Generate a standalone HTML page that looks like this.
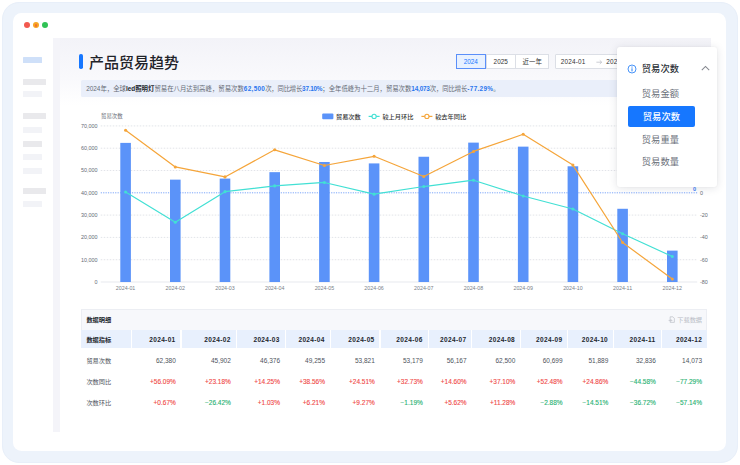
<!DOCTYPE html>
<html lang="zh-CN"><head><meta charset="utf-8"><title>产品贸易趋势</title>
<style>
*{margin:0;padding:0;box-sizing:border-box}
html,body{width:740px;height:465px;overflow:hidden;background:#fff}
body{position:relative;font-family:"Liberation Sans","Noto Sans CJK SC",sans-serif;color:#333;-webkit-font-smoothing:antialiased}
.abs,.frame,.inner,.dot,.content,.card,.sb,.hc,.rc{position:absolute}
.frame{left:1.8px;top:1.7px;width:736.7px;height:461.4px;border-radius:17px;background:#edf3fb;border:1px solid #e8eff9}
.inner{left:13.2px;top:13.2px;width:713.1px;height:437.8px;border-radius:8.5px;background:#fff}
.dot{width:6px;height:6px;border-radius:50%;top:22.3px}
.content{left:53.2px;top:37.8px;width:657.8px;height:393.8px;background:#f4f4f9}
.card{left:60px;top:38px;width:651px;height:393.5px;background:linear-gradient(180deg,#f3f3f8 0px,#f6f6fa 20px,#f9f9fc 40px,#fdfdfe 58px,#fff 68px)}
.sb{height:6px;border-radius:0.5px}
.sb.g{background:#e9e9ec}.sb.l{background:#f2f3f7}.sb.b{background:#cfe0f9}
.tbar{left:79px;top:54px;width:3.6px;height:15px;border-radius:1.8px;background:#1677ff}
.title{left:89px;top:52.6px;font-size:15px;line-height:19px;font-weight:500;color:#1f2329;letter-spacing:0;white-space:nowrap}
.btn{top:54px;height:15.2px;border:0.8px solid #dcdfe6;background:#fff;font-size:6.4px;line-height:13.6px;text-align:center;color:#333;white-space:nowrap}
.btn.sel{background:#e8f1ff;border-color:#5b8ff9;color:#1677ff}
.summary{left:81px;top:80px;width:626.2px;height:17px;background:#eaeffa;border-radius:1.5px;font-size:6.4px;line-height:17px;padding-left:5.2px;color:#666b75;white-space:nowrap}
.summary b{color:#23272e;font-weight:700}
.summary i{font-style:normal;color:#2a76ee;font-weight:700}
.tbox{left:81px;top:309px;width:626.2px;height:21.2px;background:#f7f8fb;border:0.6px solid #eceef3;border-bottom:none}
.ttitle{left:86.4px;top:315.3px;font-size:6.2px;line-height:10px;font-weight:700;color:#23272e;white-space:nowrap}
.dl{left:677.3px;top:315.3px;font-size:6.2px;line-height:10px;color:#b9bdc6;white-space:nowrap}
.hc{top:330.2px;height:18px;background:#e8f0fd;font-size:6.5px;line-height:19.6px;font-weight:700;color:#23272e;text-align:right;padding-right:4.9px;white-space:nowrap;letter-spacing:0.36px;overflow:hidden}
.hc.first{text-align:left;padding-left:5.4px;font-size:6.2px;letter-spacing:0}
.rc{font-size:6.5px;line-height:10px;white-space:nowrap;color:#4e535c}
.rc.name{font-size:6.2px}
.rc.up{color:#f04a48;-webkit-text-stroke:0.12px #f04a48}.rc.down{color:#29b273;-webkit-text-stroke:0.12px #29b273}
.dd{left:617px;top:47px;width:100px;height:139.5px;background:#fff;border-radius:3px;box-shadow:0 1px 9px rgba(30,35,60,0.13),0 0 2px rgba(30,35,60,0.05)}
.dd .h{position:absolute;left:24.8px;top:15.5px;font-size:9.3px;line-height:13px;font-weight:500;color:#2b2f36;white-space:nowrap}
.dd .it{position:absolute;left:24.8px;font-size:9.3px;line-height:13px;color:#6b707a;white-space:nowrap}
.dd .selit{position:absolute;left:11px;top:58.5px;width:66.8px;height:21.2px;border-radius:2px;background:#1677ff;color:#fff;font-weight:500;font-size:9.3px;line-height:22.8px;text-align:center;white-space:nowrap}
</style></head><body>
<div class="frame"></div><div class="inner"></div>
<div class="dot" style="left:23.5px;background:#f2594f"></div>
<div class="dot" style="left:33px;background:#f6a524"></div><div class="dot" style="left:34.8px;top:24.3px;width:2.4px;height:2.4px;background:#f2702f"></div>
<div class="dot" style="left:42px;background:#30c255"></div>
<div class="content"></div><div class="card"></div>
<div class="sb b" style="left:23.2px;top:57px;width:18.5px;height:5.5px"></div>
<div class="sb g" style="left:23.2px;top:78.7px;width:22.4px"></div>
<div class="sb l" style="left:23.2px;top:91px;width:18.5px"></div>
<div class="sb g" style="left:23.2px;top:113.2px;width:22.4px"></div>
<div class="sb l" style="left:23.2px;top:127px;width:18.5px"></div>
<div class="sb g" style="left:23.2px;top:140.6px;width:18.5px"></div>
<div class="sb l" style="left:23.2px;top:154.2px;width:18.5px"></div>
<div class="sb l" style="left:23.2px;top:167.8px;width:18.5px"></div>
<div class="sb g" style="left:23.2px;top:187.5px;width:22.4px"></div>
<div class="sb l" style="left:23.2px;top:201px;width:18.5px"></div>
<div class="abs tbar"></div>
<div class="abs title">产品贸易趋势</div>
<div class="abs btn sel" style="left:455.5px;width:30.6px;z-index:2">2024</div>
<div class="abs btn" style="left:485.5px;width:30.4px">2025</div>
<div class="abs btn" style="left:515.3px;width:33.8px">近一年</div>
<div class="abs btn" style="left:554.5px;width:110px;text-align:left;padding-left:5.2px;border-radius:1px;letter-spacing:0.2px">2024-01<svg width="20.7" height="6" viewBox="0 0 20.7 6" style="vertical-align:-0.6px"><path d="M10.4 3.2h5.2M13.8 1.4l1.9 1.8-1.9 1.8" fill="none" stroke="#b4b8c1" stroke-width="0.7"/></svg>2024-12</div>
<div class="abs summary">2024年，全球<b>led照明灯</b>贸易在八月达到高峰，贸易次数<i style="letter-spacing:0.3px">62,500</i><span style="letter-spacing:-0.24px">次，同比增长</span><i style="letter-spacing:-0.25px">37.10%</i><span style="letter-spacing:-0.03px">；全年低峰为十二月，贸易次数</span><i style="letter-spacing:-0.2px">14,073</i><span style="letter-spacing:-0.12px">次，同比增长</span><i style="letter-spacing:0.3px">-77.29%</i>。</div>
<svg class="chart" width="740" height="465" viewBox="0 0 740 465" style="position:absolute;left:0;top:0">
<line x1="100.75" y1="282.00" x2="697.15" y2="282.00" stroke="#dcdfe6" stroke-width="0.7"/>
<text x="97.5" y="283.90" text-anchor="end" font-size="5.4" fill="#666b75">0</text>
<line x1="100.75" y1="259.70" x2="697.15" y2="259.70" stroke="#d6d9e0" stroke-width="0.7" stroke-dasharray="1.5 1.5"/>
<text x="97.5" y="261.60" text-anchor="end" font-size="5.4" fill="#666b75">10,000</text>
<line x1="100.75" y1="237.40" x2="697.15" y2="237.40" stroke="#d6d9e0" stroke-width="0.7" stroke-dasharray="1.5 1.5"/>
<text x="97.5" y="239.30" text-anchor="end" font-size="5.4" fill="#666b75">20,000</text>
<line x1="100.75" y1="215.10" x2="697.15" y2="215.10" stroke="#d6d9e0" stroke-width="0.7" stroke-dasharray="1.5 1.5"/>
<text x="97.5" y="217.00" text-anchor="end" font-size="5.4" fill="#666b75">30,000</text>
<line x1="100.75" y1="192.80" x2="697.15" y2="192.80" stroke="#5b8ff9" stroke-width="0.8" stroke-dasharray="1.2 1.2"/>
<text x="97.5" y="194.70" text-anchor="end" font-size="5.4" fill="#666b75">40,000</text>
<line x1="100.75" y1="170.50" x2="697.15" y2="170.50" stroke="#d6d9e0" stroke-width="0.7" stroke-dasharray="1.5 1.5"/>
<text x="97.5" y="172.40" text-anchor="end" font-size="5.4" fill="#666b75">50,000</text>
<line x1="100.75" y1="148.20" x2="697.15" y2="148.20" stroke="#d6d9e0" stroke-width="0.7" stroke-dasharray="1.5 1.5"/>
<text x="97.5" y="150.10" text-anchor="end" font-size="5.4" fill="#666b75">60,000</text>
<line x1="100.75" y1="125.90" x2="697.15" y2="125.90" stroke="#d6d9e0" stroke-width="0.7" stroke-dasharray="1.5 1.5"/>
<text x="97.5" y="127.80" text-anchor="end" font-size="5.4" fill="#666b75">70,000</text>
<text x="700" y="194.70" font-size="5.4" fill="#666b75">0</text>
<text x="700" y="217.00" font-size="5.4" fill="#666b75">-20</text>
<text x="700" y="239.30" font-size="5.4" fill="#666b75">-40</text>
<text x="700" y="261.60" font-size="5.4" fill="#666b75">-60</text>
<text x="700" y="283.90" font-size="5.4" fill="#666b75">-80</text>
<text x="101" y="118.1" font-size="5.4" fill="#666b75">贸易次数</text>
<rect x="120.30" y="142.89" width="10.60" height="139.11" fill="#5b93f9"/>
<text x="125.60" y="290.2" text-anchor="middle" font-size="5.3" fill="#7a7f89">2024-01</text>
<rect x="170.00" y="179.64" width="10.60" height="102.36" fill="#5b93f9"/>
<text x="175.30" y="290.2" text-anchor="middle" font-size="5.3" fill="#7a7f89">2024-02</text>
<rect x="219.70" y="178.58" width="10.60" height="103.42" fill="#5b93f9"/>
<text x="225.00" y="290.2" text-anchor="middle" font-size="5.3" fill="#7a7f89">2024-03</text>
<rect x="269.40" y="172.16" width="10.60" height="109.84" fill="#5b93f9"/>
<text x="274.70" y="290.2" text-anchor="middle" font-size="5.3" fill="#7a7f89">2024-04</text>
<rect x="319.10" y="161.98" width="10.60" height="120.02" fill="#5b93f9"/>
<text x="324.40" y="290.2" text-anchor="middle" font-size="5.3" fill="#7a7f89">2024-05</text>
<rect x="368.80" y="163.41" width="10.60" height="118.59" fill="#5b93f9"/>
<text x="374.10" y="290.2" text-anchor="middle" font-size="5.3" fill="#7a7f89">2024-06</text>
<rect x="418.50" y="156.75" width="10.60" height="125.25" fill="#5b93f9"/>
<text x="423.80" y="290.2" text-anchor="middle" font-size="5.3" fill="#7a7f89">2024-07</text>
<rect x="468.20" y="142.62" width="10.60" height="139.38" fill="#5b93f9"/>
<text x="473.50" y="290.2" text-anchor="middle" font-size="5.3" fill="#7a7f89">2024-08</text>
<rect x="517.90" y="146.64" width="10.60" height="135.36" fill="#5b93f9"/>
<text x="523.20" y="290.2" text-anchor="middle" font-size="5.3" fill="#7a7f89">2024-09</text>
<rect x="567.60" y="166.29" width="10.60" height="115.71" fill="#5b93f9"/>
<text x="572.90" y="290.2" text-anchor="middle" font-size="5.3" fill="#7a7f89">2024-10</text>
<rect x="617.30" y="208.78" width="10.60" height="73.22" fill="#5b93f9"/>
<text x="622.60" y="290.2" text-anchor="middle" font-size="5.3" fill="#7a7f89">2024-11</text>
<rect x="667.00" y="250.62" width="10.60" height="31.38" fill="#5b93f9"/>
<text x="672.30" y="290.2" text-anchor="middle" font-size="5.3" fill="#7a7f89">2024-12</text>
<polyline points="125.60,192.05 175.30,222.26 225.00,191.65 274.70,185.88 324.40,182.46 374.10,194.13 423.80,186.53 473.50,180.22 523.20,196.01 572.90,208.98 622.60,233.74 672.30,256.51" fill="none" stroke="#42e0d4" stroke-width="1.2" stroke-linejoin="round"/>
<circle cx="125.60" cy="192.05" r="1.55" fill="#42e0d4"/>
<circle cx="175.30" cy="222.26" r="1.55" fill="#42e0d4"/>
<circle cx="225.00" cy="191.65" r="1.55" fill="#42e0d4"/>
<circle cx="274.70" cy="185.88" r="1.55" fill="#42e0d4"/>
<circle cx="324.40" cy="182.46" r="1.55" fill="#42e0d4"/>
<circle cx="374.10" cy="194.13" r="1.55" fill="#42e0d4"/>
<circle cx="423.80" cy="186.53" r="1.55" fill="#42e0d4"/>
<circle cx="473.50" cy="180.22" r="1.55" fill="#42e0d4"/>
<circle cx="523.20" cy="196.01" r="1.55" fill="#42e0d4"/>
<circle cx="572.90" cy="208.98" r="1.55" fill="#42e0d4"/>
<circle cx="622.60" cy="233.74" r="1.55" fill="#42e0d4"/>
<circle cx="672.30" cy="256.51" r="1.55" fill="#42e0d4"/>
<polyline points="125.60,130.26 175.30,166.95 225.00,176.91 274.70,149.81 324.40,165.47 374.10,156.31 423.80,176.52 473.50,151.43 523.20,134.28 572.90,165.08 622.60,242.51 672.30,278.98" fill="none" stroke="#f5a53a" stroke-width="1.2" stroke-linejoin="round"/>
<circle cx="125.60" cy="130.26" r="1.55" fill="#f5a53a"/>
<circle cx="175.30" cy="166.95" r="1.55" fill="#f5a53a"/>
<circle cx="225.00" cy="176.91" r="1.55" fill="#f5a53a"/>
<circle cx="274.70" cy="149.81" r="1.55" fill="#f5a53a"/>
<circle cx="324.40" cy="165.47" r="1.55" fill="#f5a53a"/>
<circle cx="374.10" cy="156.31" r="1.55" fill="#f5a53a"/>
<circle cx="423.80" cy="176.52" r="1.55" fill="#f5a53a"/>
<circle cx="473.50" cy="151.43" r="1.55" fill="#f5a53a"/>
<circle cx="523.20" cy="134.28" r="1.55" fill="#f5a53a"/>
<circle cx="572.90" cy="165.08" r="1.55" fill="#f5a53a"/>
<circle cx="622.60" cy="242.51" r="1.55" fill="#f5a53a"/>
<circle cx="672.30" cy="278.98" r="1.55" fill="#f5a53a"/>
<text x="694.5" y="190.6" text-anchor="middle" font-size="5.6" font-weight="bold" fill="#3f7ef7">0</text>
<rect x="322.2" y="113.6" width="11.2" height="5.6" rx="1" fill="#5b93f9"/>
<text x="336" y="118.7" font-size="6.2" font-weight="500" fill="#333">贸易次数</text>
<line x1="368.6" y1="116.4" x2="379.6" y2="116.4" stroke="#42e0d4" stroke-width="1.2"/><circle cx="374.1" cy="116.4" r="2.1" fill="#fff" stroke="#42e0d4" stroke-width="1.1"/>
<text x="382.4" y="118.7" font-size="6.2" font-weight="500" fill="#333">较上月环比</text>
<line x1="421.4" y1="116.4" x2="432.4" y2="116.4" stroke="#f5a53a" stroke-width="1.2"/><circle cx="426.9" cy="116.4" r="2.1" fill="#fff" stroke="#f5a53a" stroke-width="1.1"/>
<text x="435.2" y="118.7" font-size="6.2" font-weight="500" fill="#333">较去年同比</text>
</svg>
<div class="abs tbox"></div>
<div class="abs ttitle">数据明细</div>
<div class="abs dl"><svg width="7.2" height="7.2" viewBox="0 0 14 14" style="position:absolute;left:-9.6px;top:0.9px"><path d="M4.2 1.6h5.3l2.9 2.9v7.9H4.2z" fill="none" stroke="#b3b7c0" stroke-width="1.2" stroke-linejoin="round"/><path d="M1.2 8.6h6.2M5.4 6.4l2.2 2.2-2.2 2.2" fill="none" stroke="#b3b7c0" stroke-width="1.2"/></svg>下载数据</div>
<div class="hc first" style="left:81.00px;width:49.70px">数据指标</div>
<div class="hc" style="left:131.70px;width:48.80px">2024-01</div>
<div class="hc" style="left:181.50px;width:54.00px">2024-02</div>
<div class="hc" style="left:236.50px;width:48.20px">2024-03</div>
<div class="hc" style="left:285.70px;width:44.00px">2024-04</div>
<div class="hc" style="left:330.70px;width:48.80px">2024-05</div>
<div class="hc" style="left:380.50px;width:47.00px">2024-06</div>
<div class="hc" style="left:428.50px;width:42.80px">2024-07</div>
<div class="hc" style="left:472.30px;width:47.70px">2024-08</div>
<div class="hc" style="left:521.00px;width:46.30px">2024-09</div>
<div class="hc" style="left:568.30px;width:44.70px">2024-10</div>
<div class="hc" style="left:614.00px;width:46.50px">2024-11</div>
<div class="hc" style="left:661.50px;width:45.70px">2024-12</div>
<div class="rc name" style="left:86.4px;top:356.20px">贸易次数</div>
<div class="rc num" style="right:564.20px;top:356.20px">62,380</div>
<div class="rc num" style="right:509.20px;top:356.20px">45,902</div>
<div class="rc num" style="right:460.00px;top:356.20px">46,376</div>
<div class="rc num" style="right:415.00px;top:356.20px">49,255</div>
<div class="rc num" style="right:365.20px;top:356.20px">53,821</div>
<div class="rc num" style="right:317.20px;top:356.20px">53,179</div>
<div class="rc num" style="right:273.40px;top:356.20px">56,167</div>
<div class="rc num" style="right:224.70px;top:356.20px">62,500</div>
<div class="rc num" style="right:177.40px;top:356.20px">60,699</div>
<div class="rc num" style="right:131.70px;top:356.20px">51,889</div>
<div class="rc num" style="right:84.20px;top:356.20px">32,836</div>
<div class="rc num" style="right:38.00px;top:356.20px">14,073</div>
<div class="rc name" style="left:86.4px;top:377.30px">次数同比</div>
<div class="rc num up" style="right:564.20px;top:377.30px">+56.09%</div>
<div class="rc num up" style="right:509.20px;top:377.30px">+23.18%</div>
<div class="rc num up" style="right:460.00px;top:377.30px">+14.25%</div>
<div class="rc num up" style="right:415.00px;top:377.30px">+38.56%</div>
<div class="rc num up" style="right:365.20px;top:377.30px">+24.51%</div>
<div class="rc num up" style="right:317.20px;top:377.30px">+32.73%</div>
<div class="rc num up" style="right:273.40px;top:377.30px">+14.60%</div>
<div class="rc num up" style="right:224.70px;top:377.30px">+37.10%</div>
<div class="rc num up" style="right:177.40px;top:377.30px">+52.48%</div>
<div class="rc num up" style="right:131.70px;top:377.30px">+24.86%</div>
<div class="rc num down" style="right:84.20px;top:377.30px">−44.58%</div>
<div class="rc num down" style="right:38.00px;top:377.30px">−77.29%</div>
<div class="rc name" style="left:86.4px;top:398.40px">次数环比</div>
<div class="rc num up" style="right:564.20px;top:398.40px">+0.67%</div>
<div class="rc num down" style="right:509.20px;top:398.40px">−26.42%</div>
<div class="rc num up" style="right:460.00px;top:398.40px">+1.03%</div>
<div class="rc num up" style="right:415.00px;top:398.40px">+6.21%</div>
<div class="rc num up" style="right:365.20px;top:398.40px">+9.27%</div>
<div class="rc num down" style="right:317.20px;top:398.40px">−1.19%</div>
<div class="rc num up" style="right:273.40px;top:398.40px">+5.62%</div>
<div class="rc num up" style="right:224.70px;top:398.40px">+11.28%</div>
<div class="rc num down" style="right:177.40px;top:398.40px">−2.88%</div>
<div class="rc num down" style="right:131.70px;top:398.40px">−14.51%</div>
<div class="rc num down" style="right:84.20px;top:398.40px">−36.72%</div>
<div class="rc num down" style="right:38.00px;top:398.40px">−57.14%</div>
<div class="abs dd">
<svg width="10" height="10" viewBox="0 0 20 20" style="position:absolute;left:9.5px;top:17px"><circle cx="10" cy="10" r="8" fill="none" stroke="#3f8ef8" stroke-width="1.9"/><rect x="8.9" y="8.6" width="2.2" height="6.2" fill="#3f8ef8"/><rect x="8.9" y="5" width="2.2" height="2.2" fill="#3f8ef8"/></svg>
<div class="h">贸易次数</div>
<svg width="9" height="6" viewBox="0 0 18 12" style="position:absolute;left:83.5px;top:18.1px"><path d="M1.6 10.2l7.4-7.4 7.4 7.4" fill="none" stroke="#85888f" stroke-width="2.1"/></svg>
<div class="it" style="top:41.3px">贸易金额</div>
<div class="selit">贸易次数</div>
<div class="it" style="top:86.8px">贸易重量</div>
<div class="it" style="top:108.9px">贸易数量</div>
</div>
</body></html>
